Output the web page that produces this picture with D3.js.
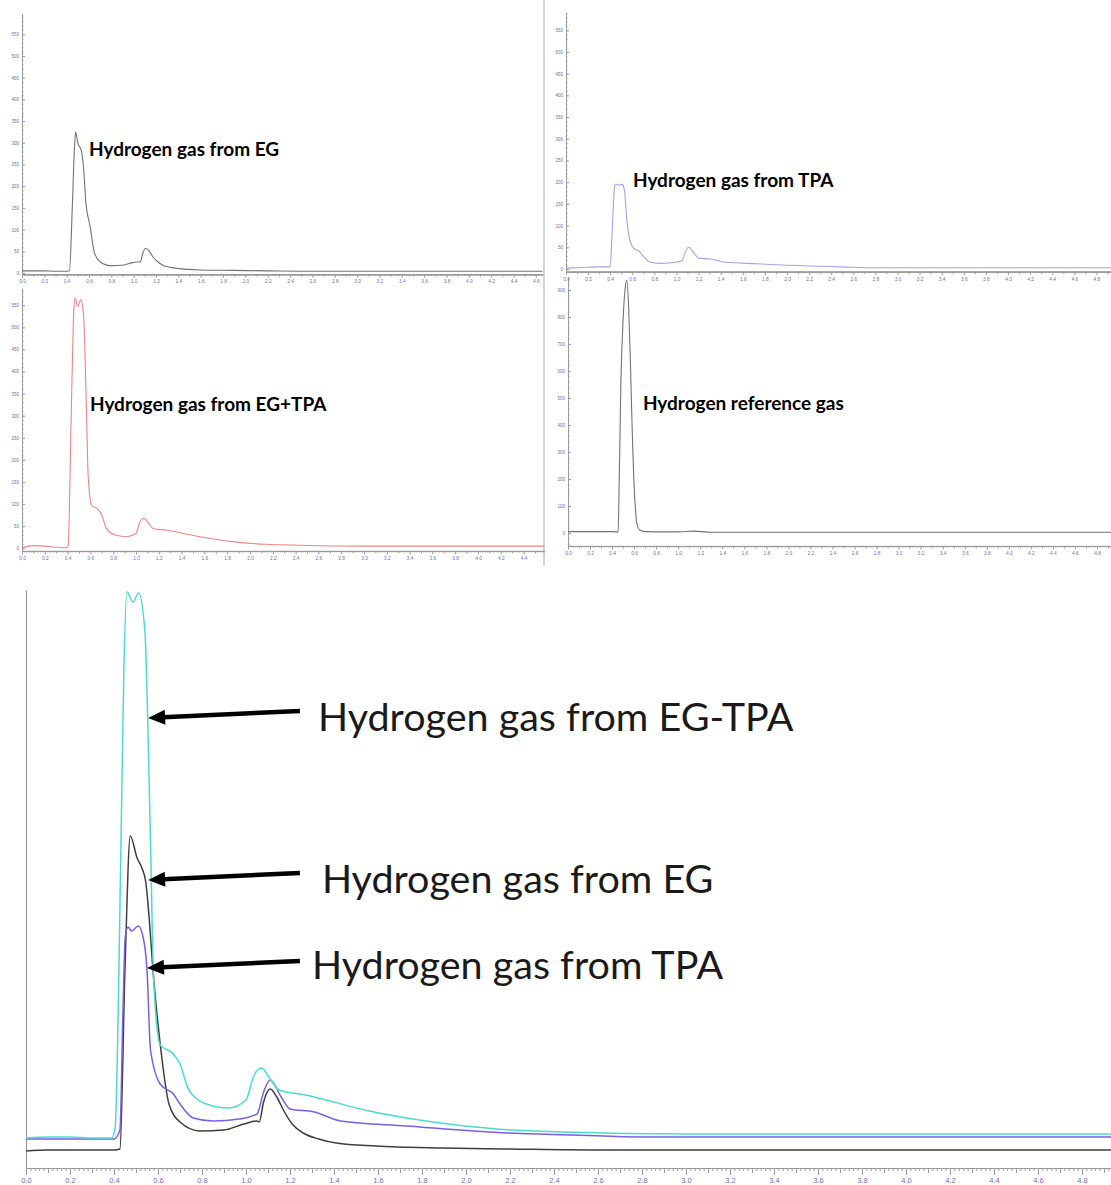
<!DOCTYPE html>
<html>
<head>
<meta charset="utf-8">
<script src="https://cdn.jsdelivr.net/npm/d3@7/dist/d3.min.js"></script>
<style>
html,body{margin:0;padding:0;background:#fff;}
svg{display:block;}
</style>
</head>
<body>
<svg id="chart" width="1111" height="1185"></svg>
<script>
// ================= DATA (retention time in min, detector signal) =================
// Panel: Hydrogen gas from EG
const egTime   = [0.00,0.10,0.20,0.30,0.40,0.425,0.45,0.47,0.48,0.50,0.53,0.555,0.57,0.61,0.65,0.70,0.79,0.90,0.99,1.05,1.06,1.08,1.11,1.14,1.17,1.21,1.26,1.33,1.41,1.59,1.89,2.20,2.60,3.00,3.50,4.00,4.66];
const egSignal = [5,5,5,4,4,5,150,290,325,299,283,230,168,107,45,26,17,18,24,26,25,45,57,50,38,27,18,13,10,7,6,5,4,4,4,4,4];

// Panel: Hydrogen gas from TPA
const tpaTime   = [0.00,0.10,0.20,0.30,0.39,0.40,0.42,0.44,0.45,0.48,0.51,0.53,0.545,0.566,0.61,0.67,0.70,0.76,0.85,0.97,1.05,1.08,1.11,1.16,1.20,1.31,1.43,1.73,2.19,2.49,2.80,3.20,4.00,4.93];
const tpaSignal = [2,3,4,5,5,6,100,190,196,193,195,180,130,82,48,39,29,16,13,15,19,40,50,36,25,23,16,12,7,5,3,3,3,3];

// Panel: Hydrogen gas from EG+TPA
const mixTime   = [0.00,0.10,0.20,0.27,0.39,0.405,0.43,0.455,0.465,0.49,0.515,0.54,0.565,0.58,0.61,0.67,0.70,0.74,0.82,0.92,1.00,1.035,1.07,1.11,1.15,1.27,1.56,1.85,2.14,2.44,3.00,3.50,4.00,4.58];
const mixSignal = [1,6,5,3,1,5,280,540,566,547,562,528,317,166,98,87,75,45,30,26,34,60,68,57,45,41,26,15,9,7,5,5,5,5];

// Panel: Hydrogen reference gas
const refTime   = [0.00,0.20,0.40,0.44,0.455,0.465,0.48,0.50,0.52,0.533,0.55,0.564,0.58,0.594,0.61,0.624,0.65,0.70,0.90,1.00,1.13,1.30,2.00,3.00,4.00,4.93];
const refSignal = [5,5,5,4,3,200,560,790,910,937,840,667,420,233,100,37,11,5,4,4,7,3,3,3,3,3];

// Overlay chart (bottom)
const bigMixTime   = [0.00,0.10,0.20,0.30,0.39,0.405,0.43,0.445,0.459,0.486,0.512,0.54,0.565,0.58,0.61,0.67,0.70,0.74,0.82,0.92,1.00,1.035,1.07,1.11,1.15,1.27,1.56,1.85,2.14,2.44,3.00,4.00,4.94];
const bigMixSignal = [30,31,31,30,30,40,300,500,576,566,575,538,335,190,123,114,104,78,64,60,68,92,100,89,78,73,57,46,39,36,34,34,34];

const bigEgTime   = [0.00,0.10,0.20,0.30,0.40,0.427,0.45,0.474,0.505,0.527,0.545,0.558,0.58,0.61,0.65,0.70,0.79,0.90,0.99,1.05,1.06,1.08,1.11,1.14,1.17,1.21,1.26,1.33,1.41,1.59,1.89,2.20,2.60,3.00,4.00,4.94];
const bigEgSignal = [17,18,18,18,18,19,200,332,310,300,285,255,190,124,64,46,37,38,44,47,46,66,79,71,58,44,35,29,25,22,20,19,18,18,18,18];

const bigTpaTime   = [0.00,0.10,0.20,0.30,0.40,0.427,0.44,0.451,0.464,0.48,0.51,0.535,0.55,0.566,0.61,0.67,0.70,0.76,0.85,0.97,1.05,1.08,1.11,1.16,1.20,1.31,1.43,1.73,2.19,2.49,2.80,3.20,4.00,4.94];
const bigTpaSignal = [29,29,29,29,29,38,150,231,241,237,242,228,198,118,84,74,64,50,47,49,54,76,88,71,59,56,47,42,35,33,31,31,31,31];

// Tick labels
const xTickLabels = ["0.0","0.2","0.4","0.6","0.8","1.0","1.2","1.4","1.6","1.8","2.0","2.2","2.4","2.6","2.8","3.0","3.2","3.4","3.6","3.8","4.0","4.2","4.4","4.6","4.8"];
const panelYTickLabels = ["0","50","100","150","200","250","300","350","400","450","500","550"];
const refYTickLabels = ["0","100","200","300","400","500","600","700","800","900"];

// Text annotations (positions in data units of each chart)
const panelLabels = ["Hydrogen gas from EG","Hydrogen gas from TPA","Hydrogen gas from EG+TPA","Hydrogen reference gas"];
const bigLabels = ["Hydrogen gas from EG-TPA","Hydrogen gas from EG","Hydrogen gas from TPA"];
const bigArrowTip  = [[0.555,450],[0.555,288],[0.55,200]];
const bigArrowTail = [[1.245,457],[1.245,295],[1.245,207]];
const bigLabelPos  = [[1.327,437],[1.345,275],[1.30,189]];

// ================= DRAWING =================
const svg = d3.select("#chart");
const AXIS = "#9a9a9a";
const TICKTXT = "#6d6db8";

function drawXAxis(x, yPx, o) {
  const dMax = x.domain()[1];
  const g = svg.append("g").attr("transform", `translate(0,${yPx})`);
  const minorVals = d3.range(0, dMax + 1e-9, 0.02).map(v => +v.toFixed(2));
  const midVals = d3.range(0.1, dMax, 0.2).map(v => +v.toFixed(2));
  const labs = xTickLabels.filter(l => +l <= dMax + 1e-9);
  g.append("g").call(d3.axisBottom(x).tickValues(minorVals).tickSize(o.minor).tickSizeOuter(0).tickFormat(""));
  g.append("g").call(d3.axisBottom(x).tickValues(midVals).tickSize(o.mid).tickSizeOuter(0).tickFormat(""));
  g.append("g").call(d3.axisBottom(x).tickValues(labs.map(Number)).tickSize(o.major).tickSizeOuter(0)
      .tickPadding(o.pad).tickFormat((d, i) => labs[i]));
  g.selectAll("path.domain").attr("stroke", AXIS);
  g.selectAll(".tick line").attr("stroke", AXIS);
  g.selectAll("text").attr("fill", TICKTXT).attr("font-size", o.font)
    .attr("font-family", "'Liberation Sans', Arial, sans-serif");
}

function drawYAxis(y, xPx, labels, minorStep) {
  const [d0, d1] = y.domain();
  const g = svg.append("g").attr("transform", `translate(${xPx},0)`);
  const minorVals = d3.range(Math.ceil(d0 / minorStep) * minorStep, d1 + 1e-9, minorStep);
  g.append("g").call(d3.axisLeft(y).tickValues(minorVals).tickSize(-1.5).tickSizeOuter(0).tickFormat(""));
  g.append("g").call(d3.axisLeft(y).tickValues(labels.map(Number)).tickSize(-3).tickSizeOuter(0)
      .tickPadding(3).tickFormat((d, i) => labels[i]));
  g.selectAll("path.domain").attr("stroke", AXIS);
  g.selectAll(".tick line").attr("stroke", AXIS);
  g.selectAll("text").attr("fill", TICKTXT).attr("font-size", 4.5)
    .attr("font-family", "'Liberation Sans', Arial, sans-serif");
}

function drawPanel(p) {
  const x = d3.scaleLinear().domain([0, p.xMax]).range([p.x0, p.x0 + p.xMax * p.pxPerMin]);
  const y = d3.scaleLinear().domain([p.yMin, p.yMax])
    .range([p.y0 - p.yMin * p.pxPerUnit, p.y0 - p.yMax * p.pxPerUnit]);
  drawXAxis(x, y(p.yMin), {minor: 1.5, mid: 2.5, major: 3.5, pad: 2, font: 4.8});
  drawYAxis(y, x(0), p.yLabels, p.minorStep);
  svg.append("path")
    .datum(d3.zip(p.time, p.signal))
    .attr("fill", "none").attr("stroke", p.color).attr("stroke-width", 1.1)
    .attr("d", d3.line().x(d => x(d[0])).y(d => y(d[1])).curve(d3.curveMonotoneX));
  svg.append("text")
    .attr("x", x(p.label[0])).attr("y", y(p.label[1]))
    .attr("font-family", "Lato, 'Open Sans', sans-serif").attr("font-weight", 700)
    .attr("font-size", p.fontSize).attr("fill", "#000")
    .text(p.text);
}

// panel separator
svg.append("line").attr("x1", 544).attr("x2", 544).attr("y1", 0).attr("y2", 566)
  .attr("stroke", "#a8a8a8").attr("stroke-width", 1);

drawPanel({x0: 22, pxPerMin: 111.7, xMax: 4.66, y0: 273, pxPerUnit: 0.434, yMin: -3, yMax: 598,
  yLabels: panelYTickLabels, minorStep: 10, time: egTime, signal: egSignal, color: "#727272",
  text: panelLabels[0], label: [0.60, 270], fontSize: 19});
drawPanel({x0: 566, pxPerMin: 110.5, xMax: 4.93, y0: 269, pxPerUnit: 0.434, yMin: -6, yMax: 590,
  yLabels: panelYTickLabels, minorStep: 10, time: tpaTime, signal: tpaSignal, color: "#a2a2ee",
  text: panelLabels[1], label: [0.606, 189], fontSize: 19});
drawPanel({x0: 22, pxPerMin: 114, xMax: 4.58, y0: 548.3, pxPerUnit: 0.442, yMin: -6, yMax: 588,
  yLabels: panelYTickLabels, minorStep: 10, time: mixTime, signal: mixSignal, color: "#f08484",
  text: panelLabels[2], label: [0.596, 311], fontSize: 19});
drawPanel({x0: 568, pxPerMin: 110.2, xMax: 4.93, y0: 533, pxPerUnit: 0.27, yMin: -48, yMax: 948,
  yLabels: refYTickLabels, minorStep: 20, time: refTime, signal: refSignal, color: "#727272",
  text: panelLabels[3], label: [0.68, 456], fontSize: 19});

// ================= overlay chart =================
const xBig = d3.scaleLinear().domain([0, 4.94]).range([26, 26 + 4.94 * 220]);
const yBig = d3.scaleLinear().domain([0, 578]).range([1168, 590]);

drawXAxis(xBig, yBig(0), {minor: 3, mid: 5, major: 7, pad: 3, font: 7.5});
svg.append("g").attr("transform", `translate(${xBig(0)},0)`)
  .call(d3.axisLeft(yBig).tickValues([]).tickSizeOuter(0))
  .selectAll("path.domain").attr("stroke", AXIS).attr("stroke-width", 1.2);

const bigLine = d3.line().x(d => xBig(d[0])).y(d => yBig(d[1])).curve(d3.curveMonotoneX);
[
  {t: bigEgTime, s: bigEgSignal, c: "#3e3e3e"},
  {t: bigTpaTime, s: bigTpaSignal, c: "#7a5ee6"},
  {t: bigMixTime, s: bigMixSignal, c: "#4adcd3"}
].forEach(sr => {
  svg.append("path").datum(d3.zip(sr.t, sr.s))
    .attr("fill", "none").attr("stroke", sr.c).attr("stroke-width", 1.5).attr("d", bigLine);
});

// arrows (filled head at the tip, thick shaft to the tail)
const HEAD_LEN = 17, HEAD_HALF = 7.5;
bigArrowTip.forEach((tip, i) => {
  const tail = bigArrowTail[i];
  const tx = xBig(tip[0]), ty = yBig(tip[1]);
  const ex = xBig(tail[0]), ey = yBig(tail[1]);
  const len = Math.hypot(ex - tx, ey - ty);
  const ux = (ex - tx) / len, uy = (ey - ty) / len;
  const bx = tx + ux * HEAD_LEN, by = ty + uy * HEAD_LEN;
  svg.append("line")
    .attr("x1", bx - ux * 2).attr("y1", by - uy * 2).attr("x2", ex).attr("y2", ey)
    .attr("stroke", "#000").attr("stroke-width", 4.5);
  svg.append("path")
    .attr("d", `M${tx},${ty} L${bx - uy * HEAD_HALF},${by + ux * HEAD_HALF} L${bx + uy * HEAD_HALF},${by - ux * HEAD_HALF} Z`)
    .attr("fill", "#000");
});

bigLabels.forEach((t, i) => {
  svg.append("text")
    .attr("x", xBig(bigLabelPos[i][0])).attr("y", yBig(bigLabelPos[i][1]))
    .attr("font-family", "Lato, 'Open Sans', sans-serif").attr("font-size", 39.5)
    .attr("fill", "#1a1a1a").text(t);
});
</script>
</body>
</html>
